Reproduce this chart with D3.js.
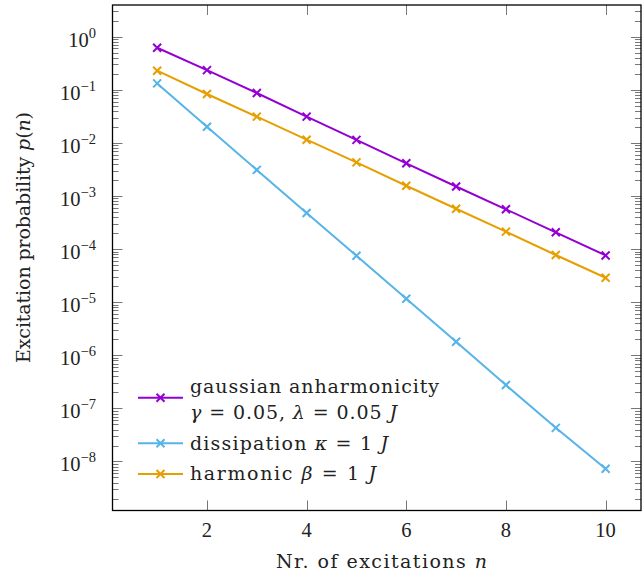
<!DOCTYPE html>
<html><head><meta charset="utf-8">
<script src="https://cdn.jsdelivr.net/npm/d3@7"></script>
<style>
html,body{margin:0;padding:0;background:#fff;}
svg text{font-family:"Liberation Serif","DejaVu Serif",serif;fill:#222;}
svg text.w{font-family:"DejaVu Serif",serif;}
</style></head>
<body><svg id="c" width="643" height="576"></svg>
<script>
const nValues = [1,2,3,4,5,6,7,8,9,10];
const gaussian = [0.62, 0.235, 0.087, 0.0312, 0.0114, 0.00413, 0.00151, 0.000562, 0.000207, 7.6e-5];
const dissipation = [0.132, 0.0202, 0.0031, 0.00048, 7.5e-5, 1.16e-5, 1.8e-6, 2.75e-7, 4.3e-8, 7.3e-9];
const harmonic = [0.229, 0.0833, 0.0312, 0.0115, 0.0043, 0.00156, 0.000576, 0.000213, 7.74e-5, 2.89e-5];
const xTicks = [2,4,6,8,10];
const yExponents = [0,-1,-2,-3,-4,-5,-6,-7,-8];
const seriesNames = ["gaussian","dissipation","harmonic"];
const colors = {gaussian:"#9400D3", dissipation:"#56B4E9", harmonic:"#E69F00"};

const svg = d3.select("#c");
const L=112.5, R=641, T=5, B=510.5;
const x = d3.scaleLinear().domain([0.104,10.71]).range([L,R]);
const y = d3.scaleLog().domain([Math.pow(10,-8.923), Math.pow(10,0.597)]).range([B,T]);

// minor ticks
const minor = [];
for (let e=-9;e<=0;e++) for (let k=2;k<=9;k++){ const v=k*Math.pow(10,e); if (v>=y.domain()[0] && v<=y.domain()[1]) minor.push(v); }
const tg = svg.append("g").attr("stroke","#777").attr("stroke-width",1);
minor.forEach(v=>{
  const yy=Math.round(y(v))+0.5;
  tg.append("line").attr("x1",L).attr("x2",L+6).attr("y1",yy).attr("y2",yy);
  tg.append("line").attr("x1",R-6).attr("x2",R).attr("y1",yy).attr("y2",yy);
});
yExponents.forEach(e=>{
  const yy=Math.round(y(Math.pow(10,e)))+0.5;
  tg.append("line").attr("x1",L).attr("x2",L+10).attr("y1",yy).attr("y2",yy);
  tg.append("line").attr("x1",R-10).attr("x2",R).attr("y1",yy).attr("y2",yy);
});
xTicks.forEach(t=>{
  const xx=Math.round(x(t))+0.5;
  tg.append("line").attr("x1",xx).attr("x2",xx).attr("y1",B).attr("y2",B-10);
  tg.append("line").attr("x1",xx).attr("x2",xx).attr("y1",T).attr("y2",T+10);
});

// frame
svg.append("rect").attr("x",L).attr("y",T).attr("width",R-L).attr("height",B-T)
  .attr("fill","none").attr("stroke","#000").attr("stroke-width",1.3);

// y tick labels
yExponents.forEach(e=>{
  const t = svg.append("text").attr("x",96).attr("y",y(Math.pow(10,e))+10)
    .attr("text-anchor","end").attr("font-size",20.5);
  t.append("tspan").text("10");
  t.append("tspan").attr("dy",-9).attr("font-size",14.5).text(e===0?"0":"\u2212"+(-e));
});
// x tick labels
xTicks.forEach(v=>{
  svg.append("text").attr("x",x(v)).attr("y",537).attr("text-anchor","middle")
    .attr("font-size",20.5).text(v);
});
// axis titles
const FS = 19;
const xt = svg.append("text").attr("class","w").attr("x",276).attr("y",568).attr("font-size",FS)
  .attr("textLength",211).attr("lengthAdjust","spacing");
xt.append("tspan").text("Nr. of excitations ");
xt.append("tspan").attr("font-style","italic").text("n");
const yt = svg.append("text").attr("class","w").attr("transform","translate(30,363) rotate(-90)").attr("font-size",FS)
  .attr("textLength",251).attr("lengthAdjust","spacing");
yt.append("tspan").text("Excitation probability ");
yt.append("tspan").attr("font-style","italic").text("p");
yt.append("tspan").text("(");
yt.append("tspan").attr("font-style","italic").text("n");
yt.append("tspan").text(")");

// series
const dataMap = {gaussian, dissipation, harmonic};
const line = d3.line().x(d=>x(d[0])).y(d=>y(d[1]));
const drawX = (g,cx,cy,c)=>{
  const s=4;
  g.append("path").attr("d",`M${cx-s},${cy-s}L${cx+s},${cy+s}M${cx-s},${cy+s}L${cx+s},${cy-s}`)
   .attr("stroke",c).attr("stroke-width",2).attr("fill","none");
};
["dissipation","harmonic","gaussian"].forEach(name=>{
  const pts = nValues.map((n,i)=>[n,dataMap[name][i]]);
  const g = svg.append("g");
  g.append("path").attr("d",line(pts)).attr("fill","none").attr("stroke",colors[name]).attr("stroke-width",2);
  pts.forEach(p=>drawX(g,x(p[0]),y(p[1]),colors[name]));
});

// legend
const legRows = [
  {name:"gaussian", ly:397.7},
  {name:"dissipation", ly:443.3},
  {name:"harmonic", ly:474}
];
legRows.forEach(r=>{
  const g=svg.append("g");
  g.append("line").attr("x1",138).attr("x2",183).attr("y1",r.ly).attr("y2",r.ly)
    .attr("stroke",colors[r.name]).attr("stroke-width",2);
  drawX(g,160.5,r.ly,colors[r.name]);
});
const lt1 = svg.append("text").attr("class","w").attr("x",190).attr("y",392.5).attr("font-size",FS)
  .attr("textLength",249).attr("lengthAdjust","spacing").text("gaussian anharmonicity");
const lt2 = svg.append("text").attr("class","w").attr("x",190).attr("y",419).attr("font-size",FS)
  .attr("textLength",207).attr("lengthAdjust","spacing");
lt2.append("tspan").attr("font-style","italic").text("γ");
lt2.append("tspan").text(" = 0.05, ");
lt2.append("tspan").attr("font-style","italic").text("λ");
lt2.append("tspan").text(" = 0.05 ");
lt2.append("tspan").attr("font-style","italic").text("J");
const lt3 = svg.append("text").attr("class","w").attr("x",190).attr("y",449.5).attr("font-size",FS)
  .attr("textLength",198).attr("lengthAdjust","spacing");
lt3.append("tspan").text("dissipation ");
lt3.append("tspan").attr("font-style","italic").text("κ");
lt3.append("tspan").text(" = 1 ");
lt3.append("tspan").attr("font-style","italic").text("J");
const lt4 = svg.append("text").attr("class","w").attr("x",190).attr("y",480).attr("font-size",FS)
  .attr("textLength",186).attr("lengthAdjust","spacing");
lt4.append("tspan").text("harmonic ");
lt4.append("tspan").attr("font-style","italic").text("β");
lt4.append("tspan").text(" = 1 ");
lt4.append("tspan").attr("font-style","italic").text("J");
</script></body></html>
